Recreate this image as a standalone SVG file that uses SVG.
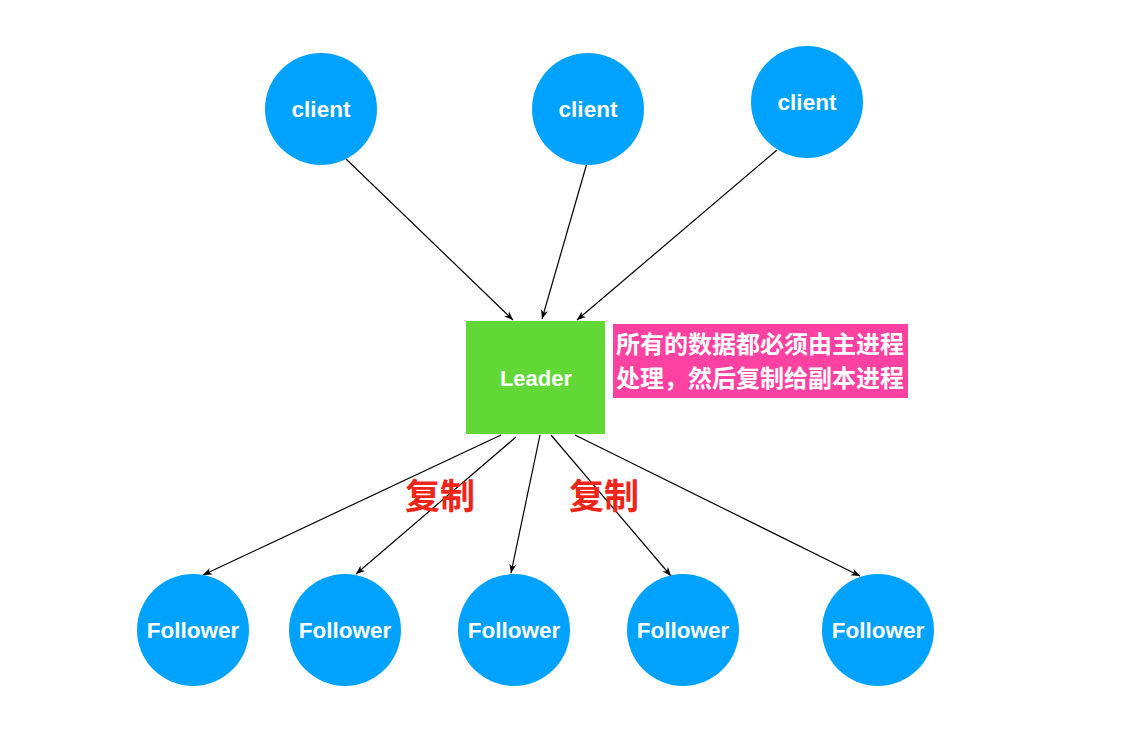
<svg xmlns="http://www.w3.org/2000/svg" width="1123" height="746" viewBox="0 0 1123 746">
<defs>
<marker id="ah" viewBox="0 0 10 10" refX="10" refY="5" markerWidth="9" markerHeight="9" markerUnits="userSpaceOnUse" orient="auto">
<path d="M0,1 L10,5 L0,9 L3,5 Z" fill="#000"/>
</marker>
<style>
.c{fill:#00a2ff}
.t{fill:#fff;font-family:"Liberation Sans","Noto Sans",sans-serif;font-weight:bold;font-size:22.5px;text-anchor:middle}
.ln{stroke:#000;stroke-width:1.2;fill:none;marker-end:url(#ah)}
.cn{fill:#fff;font-family:"Noto Sans CJK SC",sans-serif;font-weight:bold;font-size:24px}
.red{fill:#f0251a;font-family:"Noto Sans CJK SC",sans-serif;font-weight:bold;font-size:35px}
</style>
</defs>
<rect width="1123" height="746" fill="#fff"/>
<g id="connectors">
<line class="ln" x1="345" y1="158" x2="513" y2="320"/>
<line class="ln" x1="587" y1="163" x2="542" y2="319"/>
<line class="ln" x1="777" y1="150" x2="577" y2="320"/>
<line class="ln" x1="501" y1="435" x2="203" y2="575"/>
<line class="ln" x1="516" y1="437" x2="356" y2="574"/>
<line class="ln" x1="540" y1="435" x2="511" y2="573"/>
<line class="ln" x1="551" y1="435" x2="671" y2="576"/>
<line class="ln" x1="575" y1="435" x2="860" y2="576"/>
</g>
<g id="client1"><circle class="c" cx="321" cy="109" r="56"/><text class="t" x="321" y="117">client</text></g>
<g id="client2"><circle class="c" cx="588" cy="109" r="56"/><text class="t" x="588" y="117">client</text></g>
<g id="client3"><circle class="c" cx="807" cy="102" r="56"/><text class="t" x="807" y="110">client</text></g>
<g id="leader"><rect x="466" y="321" width="139" height="113" fill="#62d836"/><text class="t" x="536" y="386" style="font-size:22px">Leader</text></g>
<g id="note"><rect x="613" y="324" width="295" height="74" fill="#ff42a1"/>
<text class="cn" x="616" y="353">所有的数据都必须由主进程</text>
<text class="cn" x="616" y="387">处理，然后复制给副本进程</text></g>
<g id="label1"><text class="red" x="405" y="509">复制</text></g>
<g id="label2"><text class="red" x="569" y="509">复制</text></g>
<g id="f1"><circle class="c" cx="193" cy="630" r="56"/><text class="t" x="193" y="638">Follower</text></g>
<g id="f2"><circle class="c" cx="345" cy="630" r="56"/><text class="t" x="345" y="638">Follower</text></g>
<g id="f3"><circle class="c" cx="514" cy="630" r="56"/><text class="t" x="514" y="638">Follower</text></g>
<g id="f4"><circle class="c" cx="683" cy="630" r="56"/><text class="t" x="683" y="638">Follower</text></g>
<g id="f5"><circle class="c" cx="878" cy="630" r="56"/><text class="t" x="878" y="638">Follower</text></g>
</svg>
